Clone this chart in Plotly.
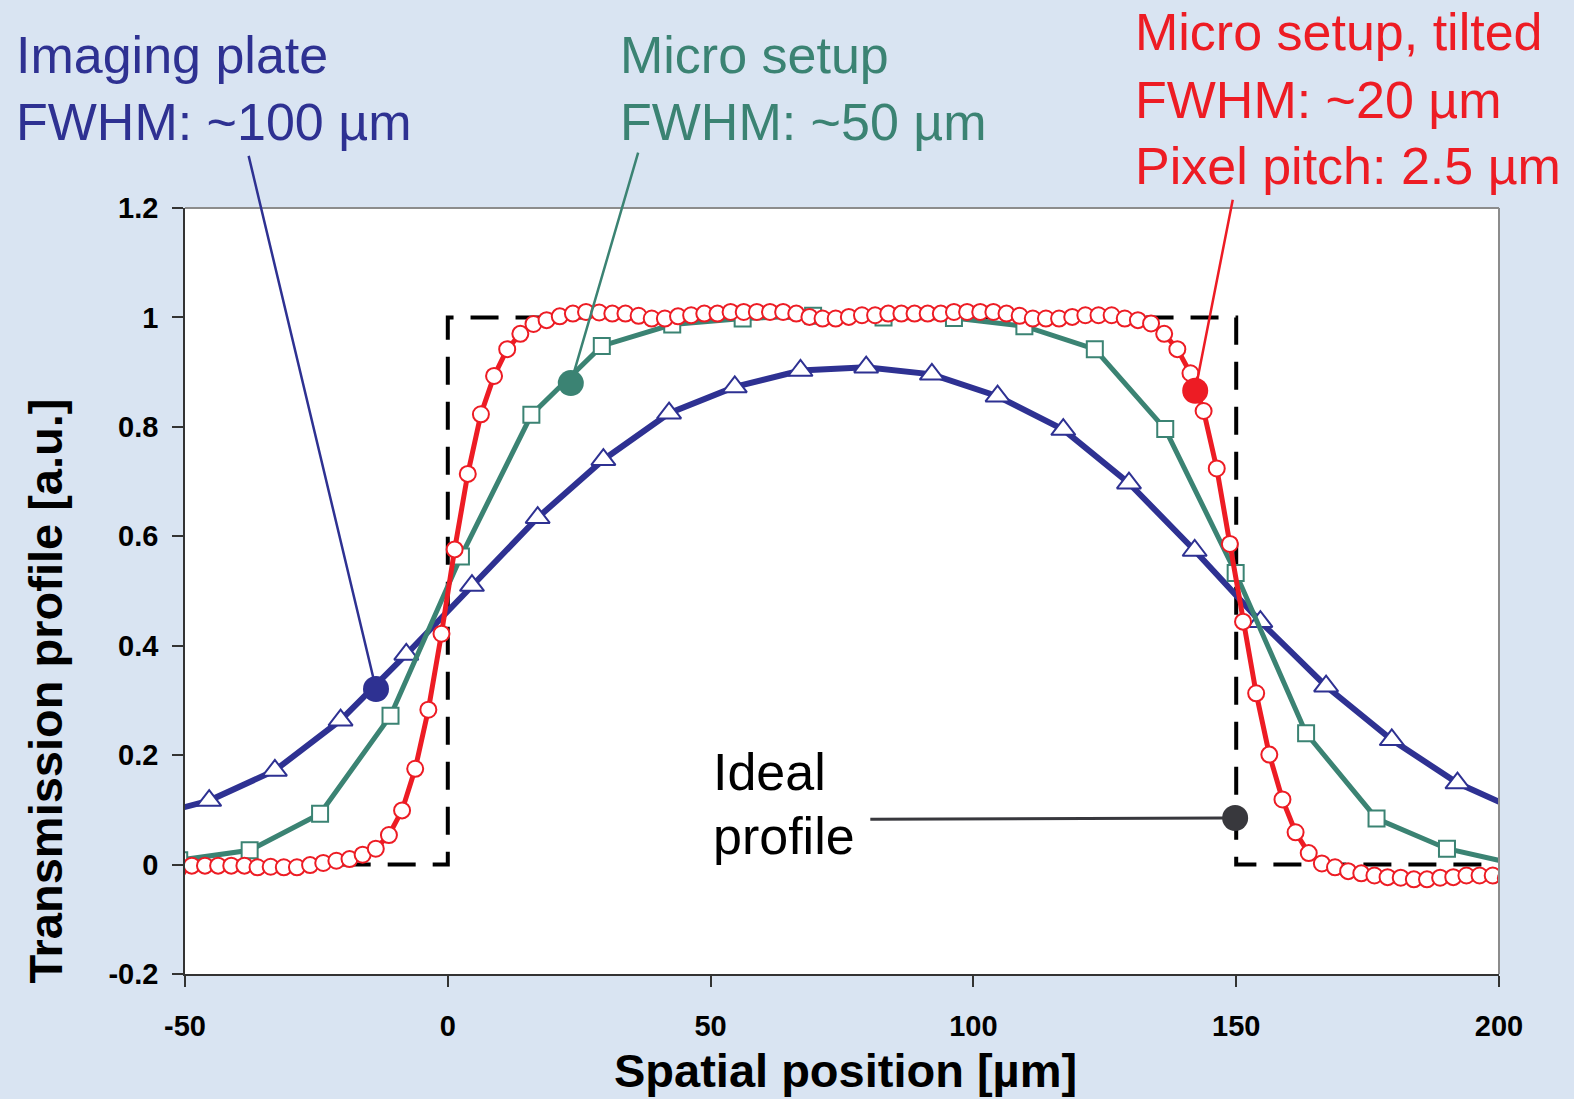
import plotly.graph_objects as go

# ---------------- data ----------------
ideal_x = [-20, 0, 0, 150, 150, 205]
ideal_y = [0, 0, 1, 1, 0, 0]

plate_x = [-57.9, -45.4, -32.9, -20.4, -7.9, 4.6, 17.1, 29.6, 42.1, 54.6, 67.1, 79.6,
           92.1, 104.6, 117.1, 129.6, 142.1, 154.6, 167.1, 179.6, 192.1, 204.6]
plate_y = [0.085, 0.117, 0.172, 0.264, 0.384, 0.510, 0.634, 0.740, 0.825, 0.873, 0.903, 0.909,
           0.896, 0.856, 0.795, 0.697, 0.574, 0.444, 0.326, 0.228, 0.149, 0.095]

micro_x = [-51.1, -37.7, -24.3, -10.9, 2.5, 15.9, 29.3, 42.7, 56.1, 69.5, 82.9, 96.3,
           109.7, 123.1, 136.5, 149.9, 163.3, 176.7, 190.1, 203.5]
micro_y = [0.008, 0.026, 0.093, 0.272, 0.563, 0.822, 0.948, 0.987, 0.998, 1.003, 1.000, 0.999,
           0.984, 0.942, 0.796, 0.533, 0.240, 0.084, 0.029, 0.000]

tilted_x = [-51.2, -48.7, -46.2, -43.7, -41.2, -38.7, -36.2, -33.7, -31.2, -28.7, -26.2,
            -23.7, -21.2, -18.7, -16.2, -13.7, -11.2, -8.7, -6.2, -3.7, -1.2,
            1.3, 3.8, 6.3, 8.8, 11.3, 13.8, 16.3, 18.8, 21.3, 23.8,
            26.3, 28.8, 31.3, 33.8, 36.3, 38.8, 41.3, 43.8, 46.3, 48.8,
            51.3, 53.8, 56.3, 58.8, 61.3, 63.8, 66.3, 68.8, 71.3, 73.8,
            76.3, 78.8, 81.3, 83.8, 86.3, 88.8, 91.3, 93.8, 96.3, 98.8,
            101.3, 103.8, 106.3, 108.8, 111.3, 113.8, 116.3, 118.8, 121.3, 123.8,
            126.3, 128.8, 131.3, 133.8, 136.3, 138.8, 141.3, 143.8, 146.3, 148.8,
            151.3, 153.8, 156.3, 158.8, 161.3, 163.8, 166.3, 168.8, 171.3, 173.8,
            176.3, 178.8, 181.3, 183.8, 186.3, 188.8, 191.3, 193.8, 196.3, 198.8, 201.3]
tilted_y = [-0.008, -0.002, -0.002, -0.002, -0.002, -0.002, -0.005, -0.004, -0.005, -0.005, -0.001,
            0.003, 0.007, 0.010, 0.018, 0.029, 0.054, 0.099, 0.175, 0.283, 0.422,
            0.576, 0.714, 0.823, 0.893, 0.942, 0.970, 0.988, 0.995, 1.002, 1.007,
            1.010, 1.009, 1.007, 1.007, 1.003, 0.998, 0.998, 1.002, 1.004, 1.007,
            1.007, 1.010, 1.010, 1.010, 1.010, 1.010, 1.007, 1.001, 0.998, 0.998,
            1.001, 1.004, 1.004, 1.007, 1.007, 1.007, 1.007, 1.007, 1.010, 1.010,
            1.010, 1.010, 1.007, 1.003, 0.998, 0.998, 0.998, 1.001, 1.004, 1.004,
            1.004, 0.998, 0.995, 0.989, 0.970, 0.942, 0.898, 0.829, 0.724, 0.586,
            0.444, 0.313, 0.201, 0.119, 0.059, 0.021, 0.002, -0.005, -0.012, -0.016,
            -0.020, -0.023, -0.024, -0.027, -0.027, -0.024, -0.023, -0.020, -0.020, -0.020, -0.025]

x_range = [-50, 200]
y_range = [-0.2, 1.2]
x_ticks = [-50, 0, 50, 100, 150, 200]
x_tick_labels = ["-50", "0", "50", "100", "150", "200"]
y_ticks = [-0.2, 0, 0.2, 0.4, 0.6, 0.8, 1.0, 1.2]
y_tick_labels = ["-0.2", "0", "0.2", "0.4", "0.6", "0.8", "1", "1.2"]

# callout dots (on curves) and line tails (near labels)
callout_x = [-13.66, 23.4, 142.2, 149.8]
callout_y = [0.321, 0.880, 0.866, 0.085]
tail_x = [-37.96, 36.3, 149.4, 80.1]
tail_y = [1.298, 1.304, 1.218, 0.083]

BLUE = "#2e3192"
GREEN = "#3b8373"
RED = "#ed1c24"
DARK = "#38383d"
BG = "#d9e4f2"
FONT = "Liberation Sans, Arial, sans-serif"


def px_(x):
    return (x - x_range[0]) / (x_range[1] - x_range[0])


def py_(y):
    return (y - y_range[0]) / (y_range[1] - y_range[0])


fig = go.Figure()

fig.add_trace(go.Scatter(x=ideal_x, y=ideal_y, mode="lines",
                         line=dict(color="black", width=4, dash="28px,17px"),
                         hoverinfo="skip", showlegend=False))
fig.add_trace(go.Scatter(x=plate_x, y=plate_y, mode="lines+markers",
                         line=dict(color=BLUE, width=6),
                         marker=dict(symbol="triangle-up", size=21, color="white",
                                     line=dict(color=BLUE, width=2)),
                         showlegend=False))
fig.add_trace(go.Scatter(x=micro_x, y=micro_y, mode="lines+markers",
                         line=dict(color=GREEN, width=5),
                         marker=dict(symbol="square", size=16, color="white",
                                     line=dict(color=GREEN, width=2)),
                         showlegend=False))
fig.add_trace(go.Scatter(x=tilted_x, y=tilted_y, mode="lines+markers",
                         line=dict(color=RED, width=5),
                         marker=dict(symbol="circle", size=16, color="white",
                                     line=dict(color=RED, width=2)),
                         showlegend=False))
fig.add_trace(go.Scatter(x=callout_x, y=callout_y, mode="markers",
                         marker=dict(size=26, color=[BLUE, GREEN, RED, DARK]),
                         hoverinfo="skip", showlegend=False))

annotations = []
line_colors = [BLUE, GREEN, RED, DARK]
line_widths = [2.5, 2.5, 2.5, 3]
for i in range(len(callout_x)):
    annotations.append(dict(x=callout_x[i], y=callout_y[i], ax=tail_x[i], ay=tail_y[i],
                            xref="x", yref="y", axref="x", ayref="y", text="",
                            showarrow=True, arrowhead=0, arrowwidth=line_widths[i],
                            arrowcolor=line_colors[i], standoff=11))

labels = [
    ("Imaging plate", -82.5, 1.479, BLUE),
    ("FWHM: ~100 \u00b5m", -82.5, 1.358, BLUE),
    ("Micro setup", 32.3, 1.479, GREEN),
    ("FWHM: ~50 \u00b5m", 32.3, 1.358, GREEN),
    ("Micro setup, tilted", 130.4, 1.521, RED),
    ("FWHM: ~20 \u00b5m", 130.4, 1.398, RED),
    ("Pixel pitch: 2.5 \u00b5m", 130.4, 1.277, RED),
    ("Ideal", 50.1, 0.170, "black"),
    ("profile", 50.1, 0.053, "black"),
]
for txt, x, y, c in labels:
    annotations.append(dict(x=px_(x), y=py_(y), xref="paper", yref="paper", text=txt,
                            showarrow=False, xanchor="left", yanchor="middle",
                            font=dict(family=FONT, size=52, color=c)))

annotations.append(dict(x=0.5028, y=py_(-0.376), xref="paper", yref="paper",
                        text="Spatial position [\u00b5m]", showarrow=False,
                        xanchor="center", yanchor="middle",
                        font=dict(family=FONT, size=47, color="black", weight="bold")))
annotations.append(dict(x=px_(-76.6), y=py_(0.3166), xref="paper", yref="paper",
                        text="Transmission profile [a.u.]", showarrow=False, textangle=-90,
                        xanchor="center", yanchor="middle",
                        font=dict(family=FONT, size=47, color="black", weight="bold")))

fig.update_layout(
    width=1574, height=1099,
    margin=dict(l=185, r=75, t=208, b=125),
    paper_bgcolor=BG, plot_bgcolor="white",
    annotations=annotations,
    shapes=[
        dict(type="line", xref="paper", yref="paper", x0=0, x1=1, y0=1, y1=1,
             line=dict(color="#8c8c8c", width=2)),
        dict(type="line", xref="paper", yref="paper", x0=1, x1=1, y0=0, y1=1,
             line=dict(color="#8c8c8c", width=2)),
    ],
    showlegend=False,
)
fig.update_xaxes(range=x_range, tickvals=x_ticks, ticktext=x_tick_labels, ticks="outside",
                 ticklen=11, tickwidth=1.5, tickcolor="#333", showline=True, linecolor="#333",
                 linewidth=1.5, showgrid=False, zeroline=False, ticklabelstandoff=14,
                 tickfont=dict(family=FONT, size=29, color="black", weight="bold"))
fig.update_yaxes(range=y_range, tickvals=y_ticks, ticktext=y_tick_labels,
                 ticks="outside", ticklen=11, tickwidth=1.5, tickcolor="#333",
                 showline=True, linecolor="#333", linewidth=1.5, showgrid=False,
                 zeroline=False, ticklabelstandoff=8,
                 tickfont=dict(family=FONT, size=29, color="black", weight="bold"))

fig.write_html("out.html")
